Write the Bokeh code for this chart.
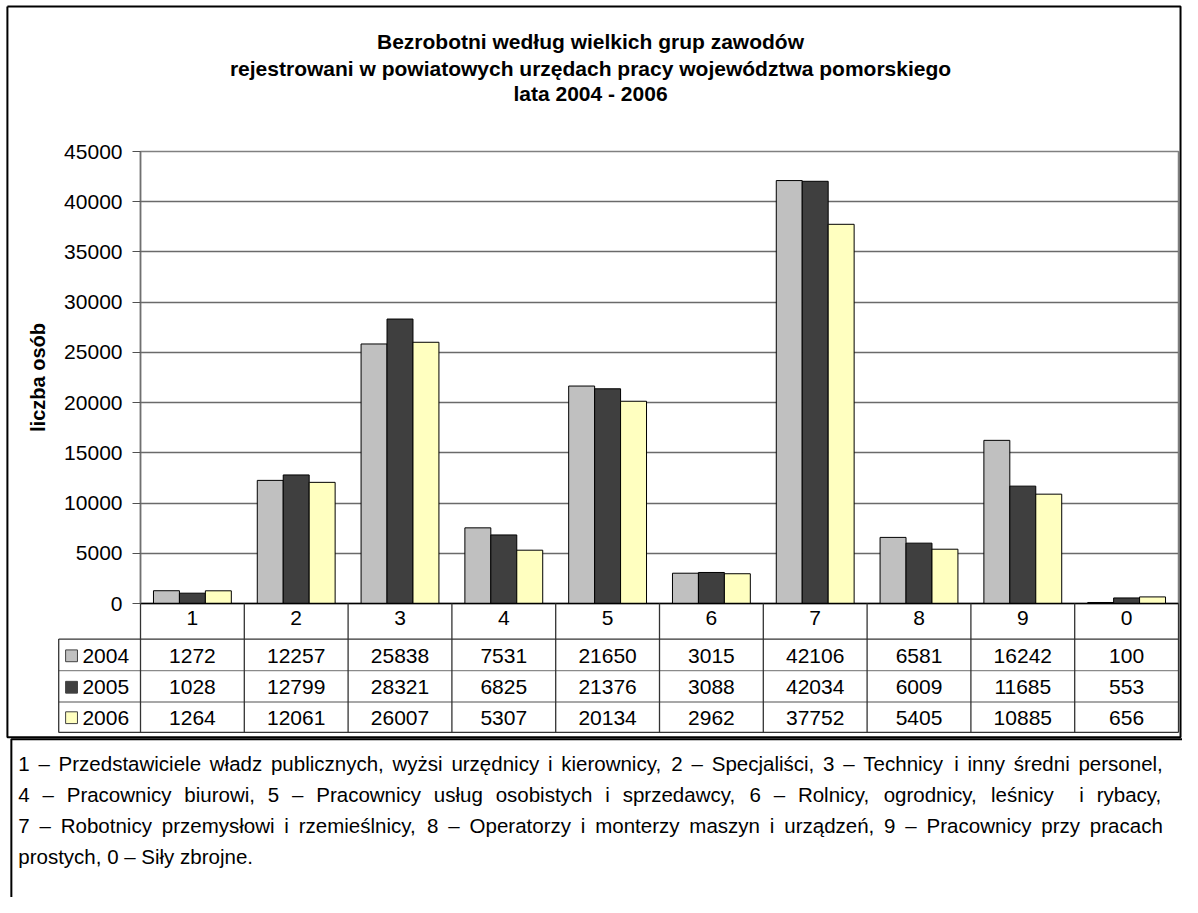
from bokeh.plotting import figure
from bokeh.models import Range1d, FixedTicker, LinearAxis
from bokeh.core.properties import value
from bokeh.embed import file_html
from bokeh.resources import INLINE

# ---------------- data ----------------
categories = ["1", "2", "3", "4", "5", "6", "7", "8", "9", "0"]
years = ["2004", "2005", "2006"]
v2004 = [1272, 12257, 25838, 7531, 21650, 3015, 42106, 6581, 16242, 100]
v2005 = [1028, 12799, 28321, 6825, 21376, 3088, 42034, 6009, 11685, 553]
v2006 = [1264, 12061, 26007, 5307, 20134, 2962, 37752, 5405, 10885, 656]
y_ticks = [0, 5000, 10000, 15000, 20000, 25000, 30000, 35000, 40000, 45000]
title_lines = [
    "Bezrobotni według wielkich grup zawodów",
    "rejestrowani w powiatowych urzędach pracy województwa pomorskiego",
    "lata 2004 - 2006",
]
y_label = "liczba osób"
note_lines = [
    "1 – Przedstawiciele władz publicznych, wyżsi urzędnicy i kierownicy, 2 – Specjaliści, 3 – Technicy i inny średni personel,",
    "4 – Pracownicy biurowi, 5 – Pracownicy usług osobistych i sprzedawcy, 6 – Rolnicy, ogrodnicy, leśnicy  i rybacy,",
    "7 – Robotnicy przemysłowi i rzemieślnicy, 8 – Operatorzy i monterzy maszyn i urządzeń, 9 – Pracownicy przy pracach",
    "prostych, 0 – Siły zbrojne.",
]

# ---------------- geometry / styles ----------------
colors = ["#c0c0c0", "#3f3f3f", "#ffffc0"]
FONT = value("Liberation Sans")
W, H = 1182, 897
SX, SY = W / 1198.0, H / 913.0          # reference px -> canvas px


def cx(rx):
    return rx * SX


def cy(ry):
    return ry * SY


FL, FR, FT, FB = round(cx(142)), round(cx(1194)), round(cy(154)), round(cy(614))
YMAX = 45000
NC = len(categories)


def dx(px):   # canvas px -> data x
    return (px - FL) / (FR - FL) * NC


def dy(py):   # canvas px -> data y
    return (FB - py) / (FB - FT) * YMAX


def rdx(rx):
    return dx(cx(rx))


def rdy(ry):
    return dy(cy(ry))


FS = "21px"

p = figure(width=W, height=H, x_range=Range1d(0, NC), y_range=Range1d(0, YMAX),
           output_backend="svg", toolbar_location=None,
           min_border_left=FL, min_border_right=W - FR,
           min_border_top=FT, min_border_bottom=H - FB,
           x_axis_location=None, y_axis_location=None)
p.background_fill_color = "white"
p.border_fill_color = "white"
p.outline_line_color = "#808080"
p.outline_line_width = 1.5

# y axis
yax = LinearAxis(ticker=FixedTicker(ticks=y_ticks))
yax.axis_line_color = "#707070"
yax.axis_line_width = 1.5
yax.major_tick_out = 8
yax.major_tick_in = 0
yax.minor_tick_out = 0
yax.minor_tick_in = 0
yax.major_tick_line_color = "#505050"
yax.major_label_standoff = 10
yax.major_label_text_font = "Liberation Sans"
yax.major_label_text_font_size = FS
yax.major_label_text_color = "black"
yax.axis_label = y_label
yax.axis_label_text_font = "Liberation Sans"
yax.axis_label_text_font_size = "20px"
yax.axis_label_text_font_style = "bold"
yax.axis_label_text_color = "black"
yax.axis_label_standoff = 12
p.add_layout(yax, "left")

# x axis = category row of the data table
centers = [i + 0.5 for i in range(NC)]
xax = LinearAxis(ticker=FixedTicker(ticks=centers))
xax.major_label_overrides = {c: lab for c, lab in zip(centers, categories)}
xax.axis_line_color = "black"
xax.axis_line_width = 1.5
xax.major_tick_out = 0
xax.major_tick_in = 0
xax.minor_tick_out = 0
xax.minor_tick_in = 0
xax.major_label_standoff = 7
xax.major_label_text_font = "Liberation Sans"
xax.major_label_text_font_size = FS
xax.major_label_text_color = "black"
p.add_layout(xax, "below")

p.xgrid.visible = False
p.ygrid.ticker = FixedTicker(ticks=y_ticks)
p.ygrid.grid_line_color = "#6a6a6a"
p.ygrid.grid_line_width = 1.3

# bars
series = [v2004, v2005, v2006]
bw = 0.25
for k, (vals, col) in enumerate(zip(series, colors)):
    xs = [c + (k - 1) * bw for c in centers]
    p.vbar(x=xs, top=vals, width=bw, bottom=0, fill_color=col,
           line_color="black", line_width=1)

# ---------------- data table below ----------------
row_lines_r = [650, 682, 714, 745]
row_line_cols = ["#333333", "#8a8a8a", "#8a8a8a", "#333333"]
row_centers_r = [667, 699, 730]
leg_left_r = 59

for ry, col in zip(row_lines_r, row_line_cols):
    p.segment(x0=[rdx(leg_left_r)], y0=[rdy(ry)], x1=[NC], y1=[rdy(ry)],
              line_color=col, line_width=1.3, level="overlay")
vx = list(range(NC + 1))
p.segment(x0=vx, y0=[0] * len(vx), x1=vx, y1=[rdy(row_lines_r[-1])] * len(vx),
          line_color="#333333", line_width=1.3, level="overlay")
p.segment(x0=[rdx(leg_left_r)], y0=[rdy(row_lines_r[0])], x1=[rdx(leg_left_r)],
          y1=[rdy(row_lines_r[-1])], line_color="#333333", line_width=1.3, level="overlay")

for k, vals in enumerate(series):
    p.text(x=centers, y=[rdy(row_centers_r[k])] * NC, text=[str(v) for v in vals],
           text_font=FONT, text_font_size=value(FS), text_align="center",
           text_baseline="middle", text_color="black", level="overlay")

for k, (yr, col) in enumerate(zip(years, colors)):
    ry = row_centers_r[k]
    p.quad(left=[rdx(66)], right=[rdx(78)], top=[rdy(ry - 6)], bottom=[rdy(ry + 6)],
           fill_color=col, line_color="#404040", line_width=1, level="overlay")
    p.text(x=[rdx(83)], y=[rdy(ry)], text=[yr], text_font=FONT, text_font_size=value(FS),
           text_align="left", text_baseline="middle", text_color="black", level="overlay")

# ---------------- title ----------------
title_y_r = [42, 69, 95]
p.text(x=[rdx(598)] * 3, y=[rdy(t) for t in title_y_r], text=title_lines,
       text_font=FONT, text_font_size=value("21px"), text_font_style="bold",
       text_align="center", text_baseline="middle", text_color="black", level="overlay")

# ---------------- outer boxes ----------------
bx = [rdx(7), rdx(1196), rdx(1196), rdx(7), rdx(7)]
by = [rdy(6), rdy(6), rdy(750), rdy(750), rdy(6)]
p.line(x=bx, y=by, line_color="black", line_width=2, level="overlay")
p.line(x=[rdx(11), rdx(11), rdx(1210)], y=[rdy(930), rdy(752), rdy(752)],
       line_color="black", line_width=2, level="overlay")

# ---------------- footnote (justified) ----------------
CW = {" ": 278, "–": 556, ",": 278, ".": 278, "-": 333,
      "a": 556, "b": 556, "c": 500, "d": 556, "e": 556, "f": 278, "g": 556, "h": 556,
      "i": 222, "j": 222, "k": 500, "l": 222, "m": 833, "n": 556, "o": 556, "p": 556,
      "q": 556, "r": 333, "s": 500, "t": 278, "u": 556, "v": 500, "w": 722, "x": 500,
      "y": 500, "z": 500, "ł": 222, "ż": 500, "ź": 500, "ę": 556, "ś": 500, "ą": 556,
      "ń": 556, "ó": 556, "ć": 500, "P": 667, "S": 667, "T": 611, "R": 722, "O": 778}
NOTE_PX = 20.5


def text_w(s):
    return sum(CW.get(ch, 556) for ch in s) * NOTE_PX / 1000.0


note_y_r = [777, 808.5, 840, 871.5]
left_px, right_px = cx(18), cx(1178)
wx, wy, wt = [], [], []
for li, line in enumerate(note_lines):
    words = line.split(" ")
    ypos = rdy(note_y_r[li])
    if li < len(note_lines) - 1:
        nat = sum(text_w(w) for w in words) + text_w(" ") * (len(words) - 1)
        extra = (right_px - left_px - nat) / (len(words) - 1)
        xpos = left_px
        for w in words:
            if w:
                wx.append(dx(xpos)); wy.append(ypos); wt.append(w)
            xpos += text_w(w) + text_w(" ") + extra
    else:
        wx.append(dx(left_px)); wy.append(ypos); wt.append(line)
p.text(x=wx, y=wy, text=wt, text_font=FONT, text_font_size=value("%.1fpx" % NOTE_PX),
       text_align="left", text_baseline="middle", text_color="black", level="overlay")

open("out.html", "w").write(file_html(p, INLINE))
